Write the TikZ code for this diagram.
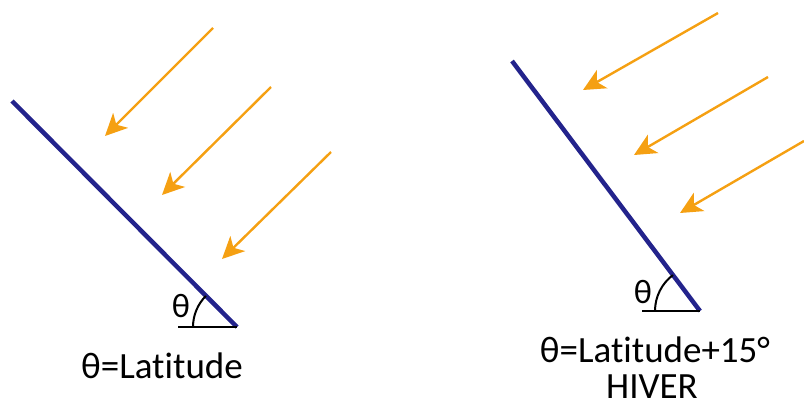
\documentclass[tikz,border=0pt]{standalone}
\usepackage{fontspec}
\setmainfont{Carlito}[Ligatures={NoCommon}]
\usetikzlibrary{arrows.meta}
\definecolor{rayorange}{RGB}{245,160,18}
\definecolor{panelblue}{RGB}{35,35,140}
\tikzset{
  ray/.style={draw=rayorange, line width=2.4pt, -{Stealth[length=22pt,width=21pt,inset=6pt]}},
  panel/.style={draw=panelblue, line width=4.5pt},
  ground/.style={draw=black, line width=2pt},
  anglearc/.style={draw=black, line width=2pt},
  bigtxt/.style={font=\fontsize{37}{40}\selectfont, anchor=base, inner sep=0pt},
  thetatxt/.style={font=\fontsize{34}{36}\selectfont, inner sep=0pt}
}
\begin{document}
\begin{tikzpicture}[x=1pt,y=-1pt]
\useasboundingbox (0,0) rectangle (804,407);
% left panel
\coordinate (LT) at (12,101);
\coordinate (LV) at (237,327);
\coordinate (LG) at (178,327);
\draw[panel] (LT) -- (LV);
\draw[ground] (LG) -- (LV);
\draw[anglearc] (193,327) arc[start angle=180, end angle=225, radius=44];
\node[thetatxt] (lth) at (181,306) {θ};
\node[bigtxt] (lcap) at (162,378) {θ=Latitude};
% left rays
\coordinate (a1s) at (213,28);  \coordinate (a1e) at (105,136);
\coordinate (a2s) at (271,87);  \coordinate (a2e) at (162,195);
\coordinate (a3s) at (331,152); \coordinate (a3e) at (222,259);
\draw[ray] (a1s) -- (a1e);
\draw[ray] (a2s) -- (a2e);
\draw[ray] (a3s) -- (a3e);
% right panel
\coordinate (RT) at (512,61);
\coordinate (RV) at (700,311);
\coordinate (RG) at (642,311);
\draw[panel] (RT) -- (RV);
\draw[ground] (RG) -- (RV);
\draw[anglearc] (655,311) arc[start angle=180, end angle=233, radius=45];
\node[thetatxt] (rth) at (643,292) {θ};
\node[bigtxt] (rcap) at (655,362) {θ=Latitude+15°};
\node[bigtxt] (rcap2) at (652,398) {HIVER};
% right rays
\coordinate (b1s) at (718,13);  \coordinate (b1e) at (583,90);
\coordinate (b2s) at (768,77);  \coordinate (b2e) at (634,155);
\coordinate (b3s) at (804,141); \coordinate (b3e) at (680,213);
\draw[ray] (b1s) -- (b1e);
\draw[ray] (b2s) -- (b2e);
\draw[ray] (b3s) -- (b3e);
\end{tikzpicture}
\end{document}
